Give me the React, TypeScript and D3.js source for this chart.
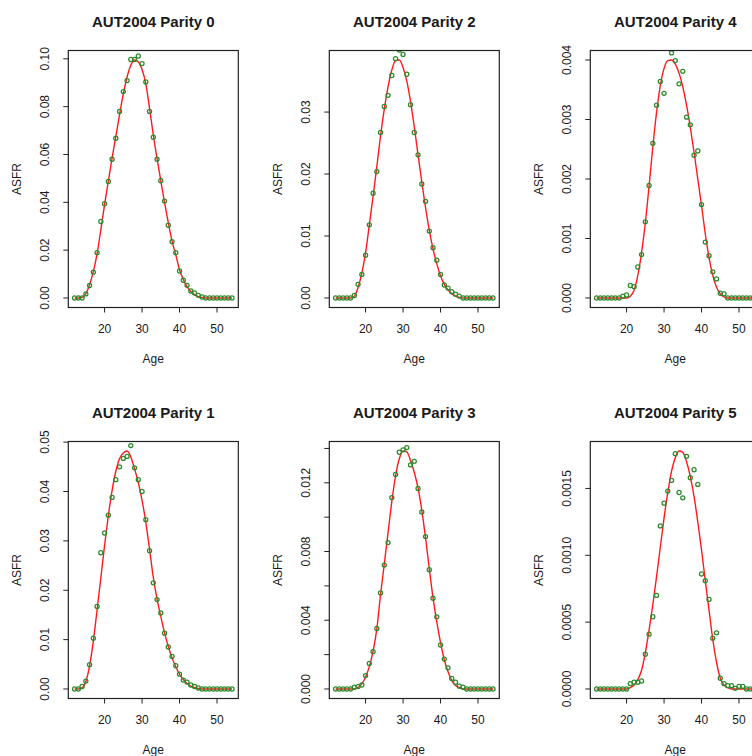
import React from "react";
import * as d3 from "d3";

const AGES = [12, 13, 14, 15, 16, 17, 18, 19, 20, 21, 22, 23, 24, 25, 26, 27, 28, 29, 30, 31, 32, 33, 34, 35, 36, 37, 38, 39, 40, 41, 42, 43, 44, 45, 46, 47, 48, 49, 50, 51, 52, 53, 54];

const X_TICKS = [20, 30, 40, 50];

// Parity 0
const P0_OBS = [0, 0, 0, 0.0017, 0.0052, 0.0108, 0.0189, 0.032, 0.0394, 0.0487, 0.058, 0.0668, 0.078, 0.0863, 0.0909, 0.0997, 0.0997, 0.1012, 0.098, 0.0903, 0.078, 0.0672, 0.058, 0.049, 0.0405, 0.0304, 0.0235, 0.0189, 0.0113, 0.0074, 0.0053, 0.0029, 0.0021, 0.0011, 0.0004, 0, 0, 0, 0, 0, 0, 0, 0];
const P0_FIT = [0, 0, 0.0002, 0.0018, 0.0055, 0.011, 0.0185, 0.0285, 0.039, 0.0488, 0.0585, 0.0675, 0.0768, 0.0853, 0.0924, 0.0973, 0.0995, 0.0987, 0.0955, 0.0895, 0.0793, 0.0682, 0.0583, 0.049, 0.04, 0.0315, 0.0238, 0.018, 0.0118, 0.0077, 0.0047, 0.0027, 0.0014, 0.0006, 0.0002, 0, 0, 0, 0, 0, 0, 0, 0];
const P0_YTICKS = [0, 0.02, 0.04, 0.06, 0.08, 0.1];
const P0_YLABELS = ["0.00", "0.02", "0.04", "0.06", "0.08", "0.10"];

// Parity 1
const P1_OBS = [0, 0, 0.0005, 0.0016, 0.0049, 0.0103, 0.0167, 0.0276, 0.0316, 0.0352, 0.0388, 0.0424, 0.045, 0.0467, 0.0471, 0.0493, 0.0448, 0.0424, 0.04, 0.0343, 0.028, 0.0215, 0.0181, 0.0154, 0.0113, 0.0085, 0.0066, 0.0047, 0.003, 0.0018, 0.0014, 0.0008, 0.0005, 0.0002, 0, 0, 0, 0, 0, 0, 0, 0, 0];
const P1_FIT = [0, 0, 0.0002, 0.0015, 0.0047, 0.0097, 0.016, 0.0225, 0.0291, 0.0351, 0.0402, 0.0441, 0.0467, 0.0478, 0.0482, 0.047, 0.0446, 0.0418, 0.0382, 0.0338, 0.0283, 0.0226, 0.0182, 0.0147, 0.0114, 0.0086, 0.0063, 0.0045, 0.003, 0.0019, 0.0011, 0.0006, 0.0003, 0.0001, 0, 0, 0, 0, 0, 0, 0, 0, 0];
const P1_YTICKS = [0, 0.01, 0.02, 0.03, 0.04, 0.05];
const P1_YLABELS = ["0.00", "0.01", "0.02", "0.03", "0.04", "0.05"];

// Parity 2
const P2_OBS = [0, 0, 0, 0, 0, 0.0004, 0.0022, 0.0038, 0.0069, 0.0118, 0.0169, 0.0204, 0.0267, 0.0309, 0.0327, 0.0359, 0.0386, 0.04, 0.0393, 0.0361, 0.0312, 0.0267, 0.0231, 0.0184, 0.0156, 0.0108, 0.0081, 0.0061, 0.0038, 0.0021, 0.0016, 0.001, 0.0006, 0.0003, 0, 0, 0, 0, 0, 0, 0, 0, 0];
const P2_FIT = [0, 0, 0, 0, 0, 0.0003, 0.0017, 0.004, 0.0073, 0.0118, 0.0164, 0.0212, 0.0262, 0.0305, 0.0341, 0.0368, 0.0383, 0.0384, 0.0372, 0.035, 0.0317, 0.0276, 0.0231, 0.0187, 0.0146, 0.0109, 0.0079, 0.0055, 0.0036, 0.0022, 0.0013, 0.0007, 0.0003, 0.0001, 0, 0, 0, 0, 0, 0, 0, 0, 0];
const P2_YTICKS = [0, 0.01, 0.02, 0.03];
const P2_YLABELS = ["0.00", "0.01", "0.02", "0.03"];

// Parity 3
const P3_OBS = [0, 0, 0, 0, 0, 0.0001, 0.00014, 0.00023, 0.00078, 0.00149, 0.00217, 0.00352, 0.00559, 0.00721, 0.00852, 0.01114, 0.01249, 0.01378, 0.01392, 0.01405, 0.01304, 0.01325, 0.01167, 0.0103, 0.00887, 0.00694, 0.00528, 0.0042, 0.00256, 0.00174, 0.00123, 0.00061, 0.00039, 0.00016, 0.0001, 0, 0, 0, 0, 0, 0, 0, 0];
const P3_FIT = [0, 0, 0, 0, 0, 0, 0.0001, 0.0003, 0.0007, 0.0013, 0.0022, 0.0035, 0.0055, 0.0073, 0.0091, 0.0109, 0.0124, 0.0134, 0.01385, 0.0138, 0.0133, 0.0126, 0.0117, 0.0104, 0.0088, 0.007, 0.0053, 0.0039, 0.0027, 0.0017, 0.001, 0.0005, 0.0002, 0.0001, 0, 0, 0, 0, 0, 0, 0, 0, 0];
const P3_YTICKS = [0, 0.002, 0.004, 0.006, 0.008, 0.01, 0.012, 0.014];
const P3_YLABELS = ["0.000", "", "0.004", "", "0.008", "", "0.012", ""];

// Parity 4
const P4_OBS = [0, 0, 0, 0, 0, 0, 0, 0.00003, 0.00005, 0.00021, 0.00019, 0.00052, 0.00073, 0.00128, 0.00189, 0.0026, 0.00324, 0.00364, 0.00344, 0.0044, 0.00412, 0.00399, 0.0036, 0.00381, 0.00304, 0.00291, 0.0024, 0.00247, 0.00157, 0.00094, 0.00071, 0.00044, 0.00032, 0.00008, 0.00007, 0, 0, 0, 0, 0, 0, 0, 0];
const P4_FIT = [0, 0, 0, 0, 0, 0, 0, 0, 0, 0.00003, 0.00013, 0.00038, 0.00076, 0.00126, 0.00188, 0.00254, 0.00312, 0.00357, 0.00386, 0.00399, 0.004, 0.00393, 0.00378, 0.00355, 0.00324, 0.00287, 0.00245, 0.002, 0.00155, 0.00108, 0.00068, 0.00038, 0.00018, 0.00007, 0.00002, 0, 0, 0, 0, 0, 0, 0, 0];
const P4_YTICKS = [0, 0.001, 0.002, 0.003, 0.004];
const P4_YLABELS = ["0.000", "0.001", "0.002", "0.003", "0.004"];

// Parity 5
const P5_OBS = [0, 0, 0, 0, 0, 0, 0, 0, 0, 0.00004, 0.00005, 0.00005, 0.00006, 0.00026, 0.00041, 0.00054, 0.0007, 0.00122, 0.00139, 0.00148, 0.00156, 0.00176, 0.00147, 0.00143, 0.00174, 0.00158, 0.00164, 0.00153, 0.00086, 0.00081, 0.00067, 0.00038, 0.00042, 0.00008, 0.00004, 0.000025, 0.000025, 0.000005, 0.00002, 0.00002, 0, 0, 0];
const P5_FIT = [0, 0, 0, 0, 0, 0, 0, 0, 0, 0.00001, 0.00003, 0.00007, 0.00014, 0.00027, 0.00044, 0.00063, 0.00084, 0.00106, 0.00128, 0.00147, 0.00163, 0.00173, 0.00178, 0.00177, 0.0017, 0.00159, 0.00144, 0.00125, 0.00104, 0.00081, 0.00059, 0.00037, 0.0002, 0.00008, 0.00003, 0.00001, 0, 0, 0, 0, 0, 0, 0];
const P5_YTICKS = [0, 0.0005, 0.001, 0.0015];
const P5_YLABELS = ["0.0000", "0.0005", "0.0010", "0.0015"];

const PANELS = [
  { title: "AUT2004 Parity 0", row: 0, col: 0, obs: P0_OBS, fit: P0_FIT, yTicks: P0_YTICKS, yLabels: P0_YLABELS },
  { title: "AUT2004 Parity 2", row: 0, col: 1, obs: P2_OBS, fit: P2_FIT, yTicks: P2_YTICKS, yLabels: P2_YLABELS },
  { title: "AUT2004 Parity 4", row: 0, col: 2, obs: P4_OBS, fit: P4_FIT, yTicks: P4_YTICKS, yLabels: P4_YLABELS },
  { title: "AUT2004 Parity 1", row: 1, col: 0, obs: P1_OBS, fit: P1_FIT, yTicks: P1_YTICKS, yLabels: P1_YLABELS },
  { title: "AUT2004 Parity 3", row: 1, col: 1, obs: P3_OBS, fit: P3_FIT, yTicks: P3_YTICKS, yLabels: P3_YLABELS },
  { title: "AUT2004 Parity 5", row: 1, col: 2, obs: P5_OBS, fit: P5_FIT, yTicks: P5_YTICKS, yLabels: P5_YLABELS },
];

const W = 752;
const H = 756;
const COL_STEP = 261;
const ROW_STEP = 391;
const BOX_LEFT = 68.3;
const BOX_TOP = 50.5;
const BOX_W = 170;
const BOX_H = 257;
const FONT = "'Liberation Sans', Arial, Helvetica, sans-serif";
const INK = "#1a1a1a";

function Panel({ p, idx }: { p: (typeof PANELS)[number]; idx: number }) {
  const x0 = BOX_LEFT + p.col * COL_STEP;
  const y0 = BOX_TOP + p.row * ROW_STEP;
  const xMin = d3.min(AGES) as number;
  const xMax = d3.max(AGES) as number;
  const xPad = (xMax - xMin) * 0.04;
  const x = d3.scaleLinear().domain([xMin - xPad, xMax + xPad]).range([x0, x0 + BOX_W]);
  const yMin = d3.min(p.fit) as number;
  const yMax = d3.max(p.fit) as number;
  const yPad = (yMax - yMin) * 0.04;
  const y = d3.scaleLinear().domain([yMin - yPad, yMax + yPad]).range([y0 + BOX_H, y0]);

  const pts = AGES.map((a, i) => [a, p.fit[i]] as [number, number]);
  const line = d3
    .line<[number, number]>()
    .x((d) => x(d[0]))
    .y((d) => y(d[1]))
    .curve(d3.curveMonotoneX);

  const clipId = `clip-${idx}`;
  const cx = x0 + BOX_W / 2;
  const bottom = y0 + BOX_H;

  return (
    <g>
      <defs>
        <clipPath id={clipId}>
          <rect x={x0} y={y0} width={BOX_W} height={BOX_H} />
        </clipPath>
      </defs>
      <text x={cx} y={y0 - 23.5} textAnchor="middle" fontFamily={FONT} fontWeight="bold" fontSize={15} fill={INK}>
        {p.title}
      </text>
      <g clipPath={`url(#${clipId})`}>
        <path d={line(pts) || ""} fill="none" stroke="#ff1a1a" strokeWidth={1.4} />
        {AGES.map((a, i) => (
          <circle key={a} cx={x(a)} cy={y(p.obs[i])} r={2.05} fill="none" stroke="#2b8a2b" strokeWidth={1.25} />
        ))}
      </g>
      <rect x={x0} y={y0} width={BOX_W} height={BOX_H} fill="none" stroke="#222" strokeWidth={1.2} />
      {X_TICKS.map((t) => (
        <g key={t}>
          <line x1={x(t)} x2={x(t)} y1={bottom} y2={bottom + 5} stroke="#222" strokeWidth={1} />
          <text x={x(t)} y={bottom + 25} textAnchor="middle" fontFamily={FONT} fontSize={12} fill={INK}>
            {t}
          </text>
        </g>
      ))}
      {p.yTicks.map((t, i) => (
        <g key={t}>
          <line x1={x0 - 5} x2={x0} y1={y(t)} y2={y(t)} stroke="#222" strokeWidth={1} />
          {p.yLabels[i] ? (
            <text
              transform={`translate(${x0 - 19},${y(t)}) rotate(-90)`}
              textAnchor="middle"
              fontFamily={FONT}
              fontSize={12}
              fill={INK}
            >
              {p.yLabels[i]}
            </text>
          ) : null}
        </g>
      ))}
      <text x={cx} y={bottom + 55} textAnchor="middle" fontFamily={FONT} fontSize={12} fill={INK}>
        Age
      </text>
      <text
        transform={`translate(${x0 - 47},${y0 + BOX_H / 2}) rotate(-90)`}
        textAnchor="middle"
        fontFamily={FONT}
        fontSize={12}
        fill={INK}
      >
        ASFR
      </text>
    </g>
  );
}

export default function App() {
  return (
    <svg
      width={W}
      height={H}
      viewBox={`0 0 ${W} ${H}`}
      style={{ position: "absolute", left: 0, top: 0, display: "block", background: "#fff" }}
    >
      <rect x={0} y={0} width={W} height={H} fill="#fff" />
      {PANELS.map((p, i) => (
        <Panel key={p.title} p={p} idx={i} />
      ))}
    </svg>
  );
}
